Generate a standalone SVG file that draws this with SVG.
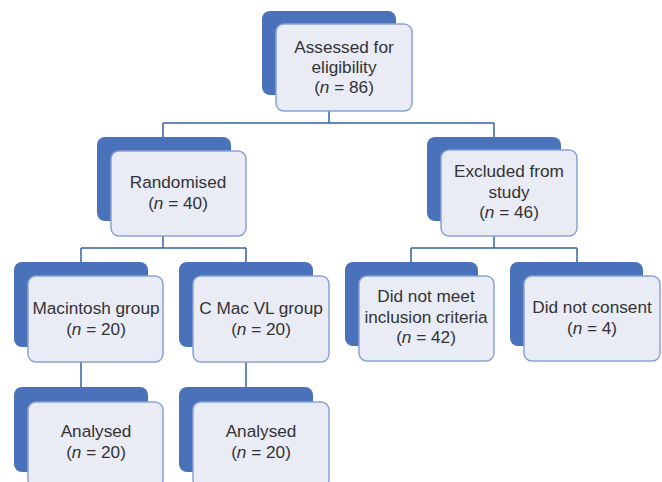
<svg xmlns="http://www.w3.org/2000/svg" width="662" height="482" viewBox="0 0 662 482">
<style>
.back{fill:#4a72ba;}
.front{fill:#e9ebf5;stroke:#8aa3d6;stroke-width:1.5;}
.lbl{font-family:"Liberation Sans",Arial,sans-serif;font-size:17.2px;fill:#333333;text-anchor:middle;}
.conn{fill:none;stroke:#3560ac;stroke-width:1.5;}
</style>
<rect width="662" height="482" fill="#ffffff"/>
<g id="connectors">
<path class="conn" d="M329 111V123M163 123H494M163 123V137M494 123V137"/>
<path class="conn" d="M163 235V248M81 248H246M81 248V262M246 248V262"/>
<path class="conn" d="M494 236V248M411 248H577M411 248V262M577 248V262"/>
<path class="conn" d="M81 362V387M246 362V387"/>
</g>
<g id="assessed">
<rect class="back" x="262" y="11" width="134" height="84" rx="8"/>
<rect class="front" x="276" y="24" width="136" height="87" rx="8"/>
<text class="lbl" x="344" y="53">Assessed for</text>
<text class="lbl" x="344" y="73">eligibility</text>
<text class="lbl" x="344" y="93">(<tspan font-style="italic">n</tspan> = 86)</text>
</g>
<g id="randomised">
<rect class="back" x="97" y="137" width="134" height="84" rx="8"/>
<rect class="front" x="111" y="151" width="135" height="85" rx="8"/>
<text class="lbl" x="178" y="188">Randomised</text>
<text class="lbl" x="178" y="209">(<tspan font-style="italic">n</tspan> = 40)</text>
</g>
<g id="excluded">
<rect class="back" x="427" y="137" width="134" height="84" rx="8"/>
<rect class="front" x="441" y="150" width="136" height="86" rx="8"/>
<text class="lbl" x="509" y="177">Excluded from</text>
<text class="lbl" x="509" y="198">study</text>
<text class="lbl" x="509" y="218">(<tspan font-style="italic">n</tspan> = 46)</text>
</g>
<g id="macintosh">
<rect class="back" x="14" y="262" width="134" height="85" rx="8"/>
<rect class="front" x="28" y="276" width="135" height="86" rx="8"/>
<text class="lbl" x="96" y="314">Macintosh group</text>
<text class="lbl" x="96" y="335">(<tspan font-style="italic">n</tspan> = 20)</text>
</g>
<g id="cmac">
<rect class="back" x="179" y="262" width="134" height="85" rx="8"/>
<rect class="front" x="193" y="276" width="136" height="86" rx="8"/>
<text class="lbl" x="261" y="314">C Mac VL group</text>
<text class="lbl" x="261" y="335">(<tspan font-style="italic">n</tspan> = 20)</text>
</g>
<g id="notmeet">
<rect class="back" x="345" y="262" width="133" height="84" rx="8"/>
<rect class="front" x="359" y="276" width="135" height="85" rx="8"/>
<text class="lbl" x="426" y="302">Did not meet</text>
<text class="lbl" x="426" y="323">inclusion criteria</text>
<text class="lbl" x="426" y="343">(<tspan font-style="italic">n</tspan> = 42)</text>
</g>
<g id="notconsent">
<rect class="back" x="510" y="262" width="133" height="84" rx="8"/>
<rect class="front" x="524" y="276" width="136" height="85" rx="8"/>
<text class="lbl" x="592" y="313">Did not consent</text>
<text class="lbl" x="592" y="334">(<tspan font-style="italic">n</tspan> = 4)</text>
</g>
<g id="analysed1">
<rect class="back" x="14" y="387" width="134" height="85" rx="8"/>
<rect class="front" x="28" y="402" width="135" height="86" rx="8"/>
<text class="lbl" x="96" y="437">Analysed</text>
<text class="lbl" x="96" y="458">(<tspan font-style="italic">n</tspan> = 20)</text>
</g>
<g id="analysed2">
<rect class="back" x="179" y="387" width="134" height="85" rx="8"/>
<rect class="front" x="193" y="402" width="136" height="86" rx="8"/>
<text class="lbl" x="261" y="437">Analysed</text>
<text class="lbl" x="261" y="458">(<tspan font-style="italic">n</tspan> = 20)</text>
</g>
</svg>
